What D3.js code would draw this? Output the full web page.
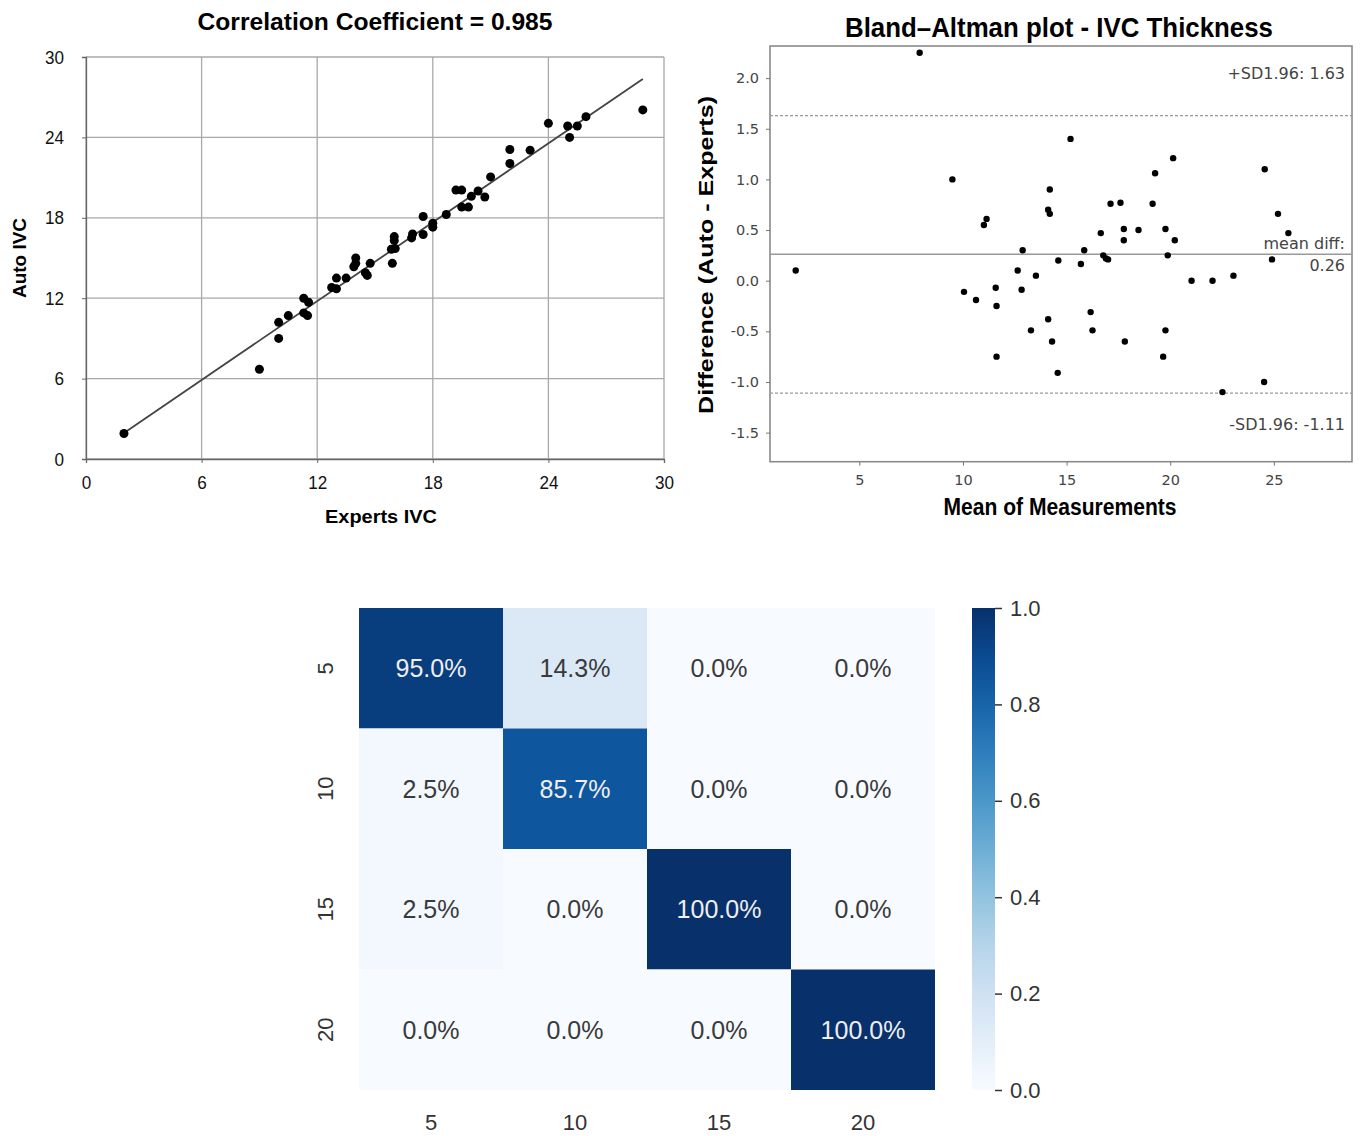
<!DOCTYPE html>
<html>
<head>
<meta charset="utf-8">
<script src="https://cdn.jsdelivr.net/npm/d3@7"></script>
<style>
  body { margin: 0; background: #fff; }
  svg { display: block; }
</style>
</head>
<body>
<div id="chart"></div>
<script>
// ---- scatter: experts vs auto ----
var expertsIVC = [1.97, 9.0, 10.0, 10.0, 10.5, 11.3, 11.55, 11.3, 11.5, 12.75, 13.0, 13.0, 13.5, 14.0, 14.0, 13.9,
  14.5, 14.6, 14.75, 15.9, 16.0, 16.0, 15.85, 16.05, 16.95, 16.9, 17.5, 17.5, 18.0, 18.0, 18.7, 19.2, 19.5,
  19.5, 19.85, 20.0, 20.35, 20.7, 21.0, 22.0, 22.0, 23.05, 24.0, 25.0, 25.1, 25.5, 25.95, 28.9];
var autoIVC = [1.9, 6.7, 10.2, 9.0, 10.7, 12.0, 11.7, 10.9, 10.7, 12.8, 12.7, 13.5, 13.5, 15.0, 14.6, 14.35,
  13.9, 13.7, 14.6, 14.6, 16.6, 16.3, 15.65, 15.7, 16.8, 16.5, 16.75, 18.1, 17.6, 17.3, 18.25, 20.07, 20.07,
  18.8, 18.8, 19.6, 20.0, 19.55, 21.05, 23.1, 22.05, 23.05, 25.05, 24.85, 24.0, 24.85, 25.55, 26.05];
var fitLine = [[1.97, 1.94], [28.9, 28.36]];
var scatterTicks = [0, 6, 12, 18, 24, 30];

// ---- bland-altman ----
var baMean = [7.91, 1.93, 9.49, 11.14, 11.01, 12.88, 14.19, 14.11, 14.19, 14.6, 12.64, 13.52, 10.05, 10.63,
  11.58, 12.83, 11.62, 14.11, 13.28, 14.3, 11.62, 14.57, 15.19, 20.14, 19.27, 24.56, 17.12, 17.6, 19.15, 25.2,
  16.65, 17.76, 17.76, 18.47, 19.77, 20.22, 25.7, 15.85, 16.77, 16.9, 17.0, 15.69, 19.88, 24.91, 21.03, 22.04,
  23.05, 16.16, 16.25, 19.77, 17.81, 19.66, 22.52, 24.53];
var baDiff = [2.25, 0.1, 1.0, 0.61, 0.55, 0.3, 0.9, 0.7, 0.66, 0.2, 0.1, 0.05, -0.11, -0.19,
  -0.07, -0.09, -0.25, -0.38, -0.49, -0.6, -0.75, -0.91, 1.4, 1.21, 1.06, 1.1, 0.76, 0.77, 0.76, 0.66,
  0.47, 0.51, 0.4, 0.5, 0.51, 0.4, 0.47, 0.3, 0.25, 0.22, 0.21, 0.165, 0.25, 0.21, 0.0, 0.0,
  0.05, -0.31, -0.49, -0.49, -0.6, -0.75, -1.1, -1.0];
var baMeanDiff = 0.26;
var baUpper = 1.63;
var baLower = -1.11;
var baXTicks = [5, 10, 15, 20, 25];
var baYTicks = [-1.5, -1.0, -0.5, 0.0, 0.5, 1.0, 1.5, 2.0];

// ---- confusion heatmap ----
var classes = ["5", "10", "15", "20"];
var matrix = [
  [0.95, 0.143, 0.0, 0.0],
  [0.025, 0.857, 0.0, 0.0],
  [0.025, 0.0, 1.0, 0.0],
  [0.0, 0.0, 0.0, 1.0]
];
var cbarTicks = [0, 0.2, 0.4, 0.6, 0.8, 1.0];

var svg = d3.select("#chart").append("svg")
  .attr("width", 1362)
  .attr("height", 1136);

var arial = "'Liberation Sans', Arial, sans-serif";
var dejavu = "'DejaVu Sans', sans-serif";

// ================= scatter =================
var sx = d3.scaleLinear().domain([0, 30]).range([86, 664]);
var sy = d3.scaleLinear().domain([0, 30]).range([459, 57]);

var g1 = svg.append("g");
g1.selectAll("line.vgrid").data(scatterTicks).enter().append("line")
  .attr("x1", d => sx(d)).attr("x2", d => sx(d))
  .attr("y1", sy(0)).attr("y2", sy(30))
  .attr("stroke", "#a8a8a8").attr("stroke-width", 1.3);
g1.selectAll("line.hgrid").data(scatterTicks).enter().append("line")
  .attr("x1", sx(0)).attr("x2", sx(30))
  .attr("y1", d => sy(d)).attr("y2", d => sy(d))
  .attr("stroke", "#a8a8a8").attr("stroke-width", 1.3);

var xAx = g1.append("g").attr("transform", "translate(0," + sy(0) + ")")
  .call(d3.axisBottom(sx).tickValues(scatterTicks).tickSize(4).tickPadding(13));
var yAx = g1.append("g").attr("transform", "translate(" + sx(0) + ",0)")
  .call(d3.axisLeft(sy).tickValues(scatterTicks).tickSize(4).tickPadding(18));
[xAx, yAx].forEach(function(a) {
  a.select(".domain").attr("stroke", "#666").attr("stroke-width", 1.3);
  a.selectAll(".tick line").attr("stroke", "#666");
  a.selectAll("text").attr("font-family", arial).attr("font-size", 19).attr("fill", "#111")
    .attr("transform", "scale(0.9,1)")
    .attr("x", function() { return +d3.select(this).attr("x") / 0.9; });
});

g1.append("line")
  .attr("x1", sx(fitLine[0][0])).attr("y1", sy(fitLine[0][1]))
  .attr("x2", sx(fitLine[1][0])).attr("y2", sy(fitLine[1][1]))
  .attr("stroke", "#444").attr("stroke-width", 1.8);

g1.selectAll("circle").data(expertsIVC).enter().append("circle")
  .attr("cx", d => sx(d))
  .attr("cy", (d, i) => sy(autoIVC[i]))
  .attr("r", 4.5)
  .attr("fill", "#000");

g1.append("text").attr("x", 375).attr("y", 30).attr("text-anchor", "middle")
  .attr("font-family", arial).attr("font-weight", "bold").attr("font-size", 23)
  .attr("textLength", 355).attr("lengthAdjust", "spacingAndGlyphs")
  .text("Correlation Coefficient = 0.985");
g1.append("text").attr("x", 381).attr("y", 523).attr("text-anchor", "middle")
  .attr("font-family", arial).attr("font-weight", "bold").attr("font-size", 19)
  .attr("textLength", 112).attr("lengthAdjust", "spacingAndGlyphs")
  .text("Experts IVC");
g1.append("text").attr("transform", "translate(26,258) rotate(-90)").attr("text-anchor", "middle")
  .attr("font-family", arial).attr("font-weight", "bold").attr("font-size", 19)
  .attr("textLength", 80).attr("lengthAdjust", "spacingAndGlyphs")
  .text("Auto IVC");

// ================= bland-altman =================
var bx = d3.scaleLinear().domain([0.69, 28.77]).range([770, 1352]);
var by = d3.scaleLinear().domain([-1.787, 2.317]).range([461.7, 46]);
var g2 = svg.append("g");

g2.append("rect").attr("x", 770).attr("y", 46).attr("width", 582).attr("height", 415.7)
  .attr("fill", "none").attr("stroke", "#8a8a8a").attr("stroke-width", 1.6);

var bxAx = g2.append("g").attr("transform", "translate(0,461.7)")
  .call(d3.axisBottom(bx).tickValues(baXTicks).tickSize(4).tickPadding(9));
var byAx = g2.append("g").attr("transform", "translate(770,0)")
  .call(d3.axisLeft(by).tickValues(baYTicks).tickFormat(d => d.toFixed(1)).tickSize(4).tickPadding(7));
[bxAx, byAx].forEach(function(a) {
  a.select(".domain").remove();
  a.selectAll(".tick line").attr("stroke", "#777");
  a.selectAll("text").attr("font-family", dejavu).attr("font-size", 14.5).attr("fill", "#444");
});

g2.append("line").attr("x1", 770).attr("x2", 1352)
  .attr("y1", by(baMeanDiff)).attr("y2", by(baMeanDiff))
  .attr("stroke", "#999").attr("stroke-width", 1.5);
[baUpper, baLower].forEach(function(v) {
  g2.append("line").attr("x1", 770).attr("x2", 1352)
    .attr("y1", by(v)).attr("y2", by(v))
    .attr("stroke", "#999").attr("stroke-width", 1.2).attr("stroke-dasharray", "3,2");
});

g2.selectAll("circle").data(baMean).enter().append("circle")
  .attr("cx", d => bx(d))
  .attr("cy", (d, i) => by(baDiff[i]))
  .attr("r", 3.2)
  .attr("fill", "#000");

var annot = [
  {t: "+SD1.96: " + baUpper.toFixed(2), y: 79},
  {t: "mean diff:", y: 249},
  {t: baMeanDiff.toFixed(2), y: 271},
  {t: "-SD1.96: " + baLower.toFixed(2), y: 430}
];
g2.selectAll("text.annot").data(annot).enter().append("text")
  .attr("class", "annot")
  .attr("x", 1345).attr("y", d => d.y).attr("text-anchor", "end")
  .attr("font-family", dejavu).attr("font-size", 16).attr("fill", "#444")
  .text(d => d.t);

g2.append("text").attr("x", 1059).attr("y", 37).attr("text-anchor", "middle")
  .attr("font-family", arial).attr("font-weight", "bold").attr("font-size", 27)
  .attr("textLength", 428).attr("lengthAdjust", "spacingAndGlyphs")
  .text("Bland\u2013Altman plot - IVC Thickness");
g2.append("text").attr("x", 1060).attr("y", 515).attr("text-anchor", "middle")
  .attr("font-family", arial).attr("font-weight", "bold").attr("font-size", 23)
  .attr("textLength", 233).attr("lengthAdjust", "spacingAndGlyphs")
  .text("Mean of Measurements");
g2.append("text").attr("transform", "translate(713,255) rotate(-90)").attr("text-anchor", "middle")
  .attr("font-family", arial).attr("font-weight", "bold").attr("font-size", 20)
  .attr("textLength", 318).attr("lengthAdjust", "spacingAndGlyphs")
  .text("Difference (Auto - Experts)");

// ================= heatmap =================
var hx = d3.scaleBand().domain(classes).range([359, 935]);
var hy = d3.scaleBand().domain(classes).range([608, 1090]);
var color = d3.scaleSequential(d3.interpolateBlues).domain([0, 1]);
var g3 = svg.append("g");

var cells = [];
matrix.forEach(function(row, i) {
  row.forEach(function(v, j) { cells.push({r: classes[i], c: classes[j], v: v}); });
});

g3.selectAll("rect.cell").data(cells).enter().append("rect")
  .attr("class", "cell")
  .attr("x", d => hx(d.c)).attr("y", d => hy(d.r))
  .attr("width", hx.bandwidth()).attr("height", hy.bandwidth())
  .attr("fill", d => color(d.v));

g3.selectAll("text.val").data(cells).enter().append("text")
  .attr("class", "val")
  .attr("x", d => hx(d.c) + hx.bandwidth() / 2)
  .attr("y", d => hy(d.r) + hy.bandwidth() / 2 + 9)
  .attr("text-anchor", "middle")
  .attr("font-family", arial).attr("font-size", 25)
  .attr("fill", d => d.v > 0.5 ? "#eeeeee" : "#3a3a3a")
  .text(d => (d.v * 100).toFixed(1) + "%");

g3.selectAll("text.xl").data(classes).enter().append("text")
  .attr("class", "xl")
  .attr("x", d => hx(d) + hx.bandwidth() / 2).attr("y", 1130)
  .attr("text-anchor", "middle")
  .attr("font-family", arial).attr("font-size", 22).attr("fill", "#333")
  .text(d => d);
g3.selectAll("text.yl").data(classes).enter().append("text")
  .attr("class", "yl")
  .attr("transform", d => "translate(333," + (hy(d) + hy.bandwidth() / 2) + ") rotate(-90)")
  .attr("text-anchor", "middle")
  .attr("font-family", arial).attr("font-size", 22).attr("fill", "#333")
  .text(d => d);

// colorbar
var grad = svg.append("defs").append("linearGradient")
  .attr("id", "cbar").attr("x1", 0).attr("y1", 1).attr("x2", 0).attr("y2", 0);
d3.range(0, 1.01, 0.1).forEach(function(t) {
  grad.append("stop").attr("offset", t).attr("stop-color", color(t));
});
var cy = d3.scaleLinear().domain([0, 1]).range([1090, 608]);
g3.append("rect").attr("x", 972).attr("y", 608).attr("width", 23).attr("height", 482)
  .attr("fill", "url(#cbar)");
var cAx = g3.append("g").attr("transform", "translate(995,0)")
  .call(d3.axisRight(cy).tickValues(cbarTicks).tickFormat(d3.format(".1f")).tickSize(7).tickPadding(8));
cAx.select(".domain").remove();
cAx.selectAll(".tick line").attr("stroke", "#333").attr("stroke-width", 1.5);
cAx.selectAll("text").attr("font-family", arial).attr("font-size", 22).attr("fill", "#333");
</script>
</body>
</html>
